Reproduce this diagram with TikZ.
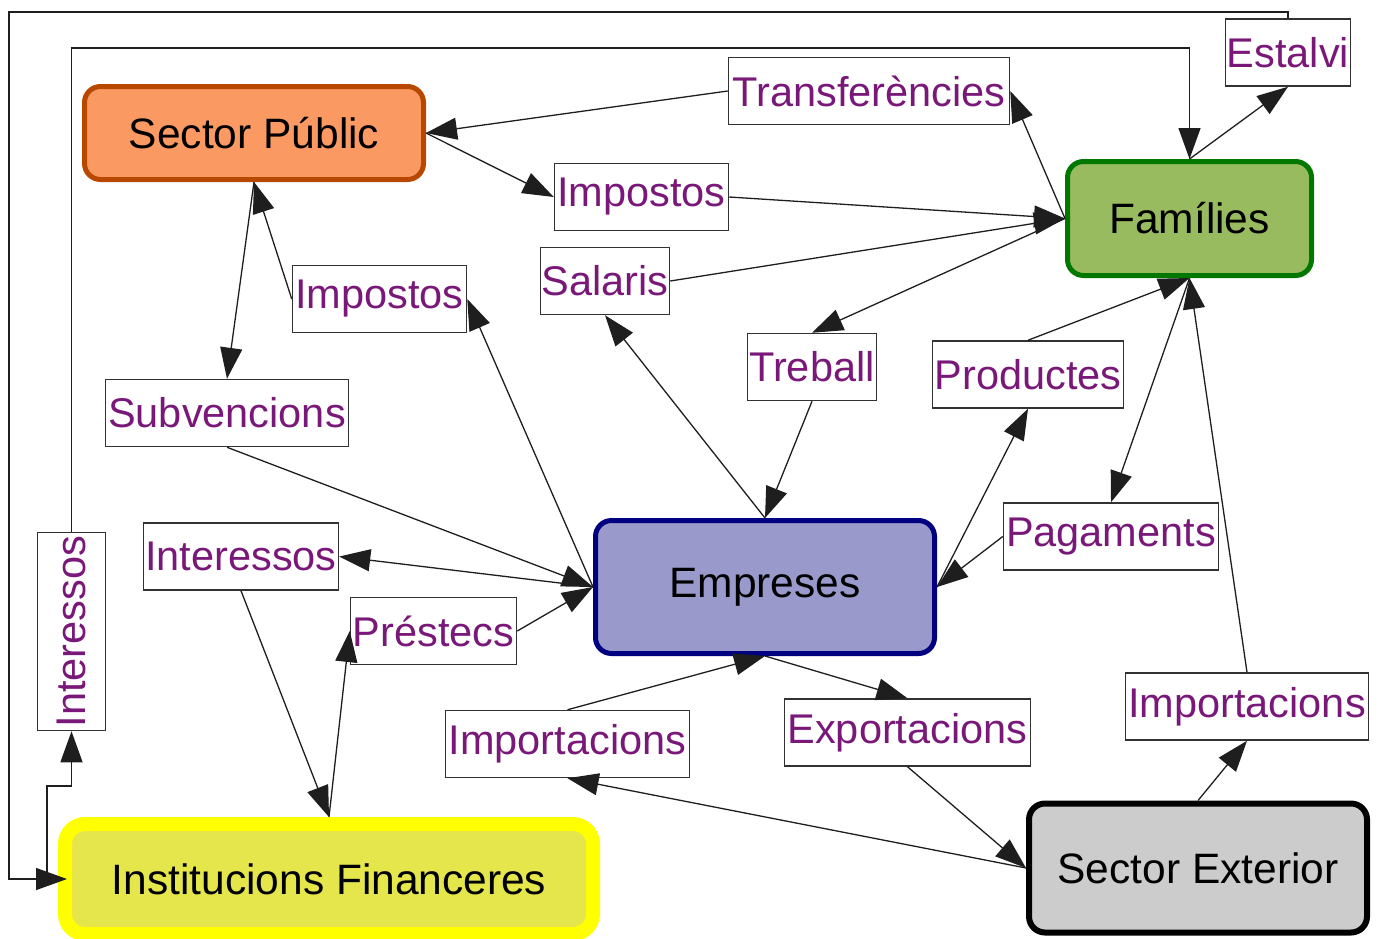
\documentclass[tikz,border=0pt]{standalone}
\usepackage{fontspec}
\setmainfont{Liberation Sans}
\usetikzlibrary{arrows.meta}
\definecolor{lblpurple}{RGB}{122,24,122}
\definecolor{boxgray}{RGB}{50,50,50}
\definecolor{linegray}{RGB}{30,30,30}
\definecolor{spfill}{RGB}{250,154,98}
\definecolor{spdraw}{RGB}{184,72,0}
\definecolor{famfill}{RGB}{153,187,95}
\definecolor{famdraw}{RGB}{0,120,0}
\definecolor{empfill}{RGB}{153,153,204}
\definecolor{empdraw}{RGB}{0,0,128}
\definecolor{iffill}{RGB}{229,229,76}
\definecolor{ifdraw}{RGB}{255,255,0}
\definecolor{sefill}{RGB}{204,204,204}
\begin{document}
\begin{tikzpicture}[x=1pt,y=-1pt,
  lbl/.style={draw=boxgray, line width=1.5pt, fill=white, text=lblpurple,
    inner sep=0pt, minimum height=67pt, font=\fontsize{41.5}{50}\selectfont},
  mainnode/.style={rounded corners=16pt, inner sep=0pt, text=black,
    font=\fontsize{42.5}{50}\selectfont},
  conn/.style={draw=linegray, line width=1.3pt, -{Triangle[length=31pt,width=22pt]}}]
\useasboundingbox (0,0) rectangle (1383,938);
% main nodes
\node[mainnode, fill=spfill, draw=spdraw, line width=5pt, minimum width=339pt, minimum height=93pt] (SP) at (254,133) {Sector Públic};
\node[mainnode, fill=famfill, draw=famdraw, line width=5pt, minimum width=244pt, minimum height=114pt] (Fam) at (1189.5,218.5) {Famílies};
\node[mainnode, fill=empfill, draw=empdraw, line width=5pt, minimum width=339pt, minimum height=133pt] (Emp) at (765,587) {Empreses};
\node[mainnode, rounded corners=20pt, fill=iffill, draw=ifdraw, line width=14pt, minimum width=528pt, minimum height=110pt] (IF) at (329,879) {Institucions Financeres};
\node[mainnode, fill=sefill, draw=black, line width=6pt, minimum width=338pt, minimum height=129pt] (SE) at (1198,868) {Sector Exterior};
% label nodes
\node[lbl, minimum width=281pt] (Transf) at (869,91) {Transferències};
\node[lbl, minimum width=125pt] (Estalvi) at (1288,52.5) {Estalvi};
\node[lbl, minimum width=174pt] (Imp1) at (641.5,197) {Impostos};
\node[lbl, minimum width=129pt] (Salaris) at (605,281) {Salaris};
\node[lbl, minimum width=174pt] (Imp2) at (379.5,299) {Impostos};
\node[lbl, minimum width=129pt] (Treball) at (812,367) {Treball};
\node[lbl, minimum width=191pt] (Prod) at (1028,374.5) {Productes};
\node[lbl, minimum width=243pt] (Subv) at (227,413) {Subvencions};
\node[lbl, minimum width=215pt] (Pag) at (1111,536.5) {Pagaments};
\node[lbl, minimum width=195pt] (Inter) at (241,556.5) {Interessos};
\node[lbl, minimum width=166pt] (Prest) at (433.5,631) {Préstecs};
\node[lbl, minimum width=68pt, minimum height=198pt] (IV) at (71.5,631.5) {\rotatebox{90}{Interessos}};
\node[lbl, minimum width=244pt] (ImpL) at (567.5,744) {Importacions};
\node[lbl, minimum width=246pt] (Exp) at (907.5,732.5) {Exportacions};
\node[lbl, minimum width=243pt] (ImpR) at (1247,706.5) {Importacions};
% helper coordinates
\coordinate (cOuter) at (9,12);
\coordinate (cInner) at (0,48);
% connectors
\draw[conn] (Transf.west) -- (SP.east);
\draw[conn] (SP.east) -- (Imp1.west);
\draw[conn] (Imp1.east) -- (Fam.west);
\draw[conn] (Salaris.east) -- (Fam.west);
\draw[conn] (Fam.west) -- (Transf.east);
\draw[conn] (Fam.west) -- (Treball.north);
\draw[conn] (Imp2.west) -- (SP.south);
\draw[conn] (SP.south) -- (Subv.north);
\draw[conn] (Subv.south) -- (Emp.west);
\draw[conn] (Emp.west) -- (Imp2.east);
\draw[conn] (Emp.west) -- (Inter.east);
\draw[conn] (Prest.east) -- (Emp.west);
\draw[conn] (Inter.south) -- (IF.north);
\draw[conn] (IF.north) -- (Prest.west);
\draw[conn] (Emp.north) -- (Salaris.south);
\draw[conn] (Treball.south) -- (Emp.north);
\draw[conn] (Emp.east) -- (Prod.south);
\draw[conn] (Prod.north) -- (Fam.south);
\draw[conn] (Fam.south) -- (Pag.north);
\draw[conn] (Pag.west) -- (Emp.east);
\draw[conn] (ImpR.north) -- (Fam.south);
\draw[conn] (SE.north) -- (ImpR.south);
\draw[conn] (Emp.south) -- (Exp.north);
\draw[conn] (Exp.south) -- (SE.west);
\draw[conn] (SE.west) -- (ImpL.south);
\draw[conn] (ImpL.north) -- (Emp.south);
\draw[conn] (Fam.north) -- (Estalvi.south);
\draw[conn] (Estalvi.north) |- (cOuter) |- ([xshift=9pt]IF.west);
\draw[conn] ([xshift=-11pt]IF.west) -- ++(0,-93) -| (IV.south);
\draw[conn] (IV.north) -- (IV.north |- cInner) -| (Fam.north);
\end{tikzpicture}
\end{document}
